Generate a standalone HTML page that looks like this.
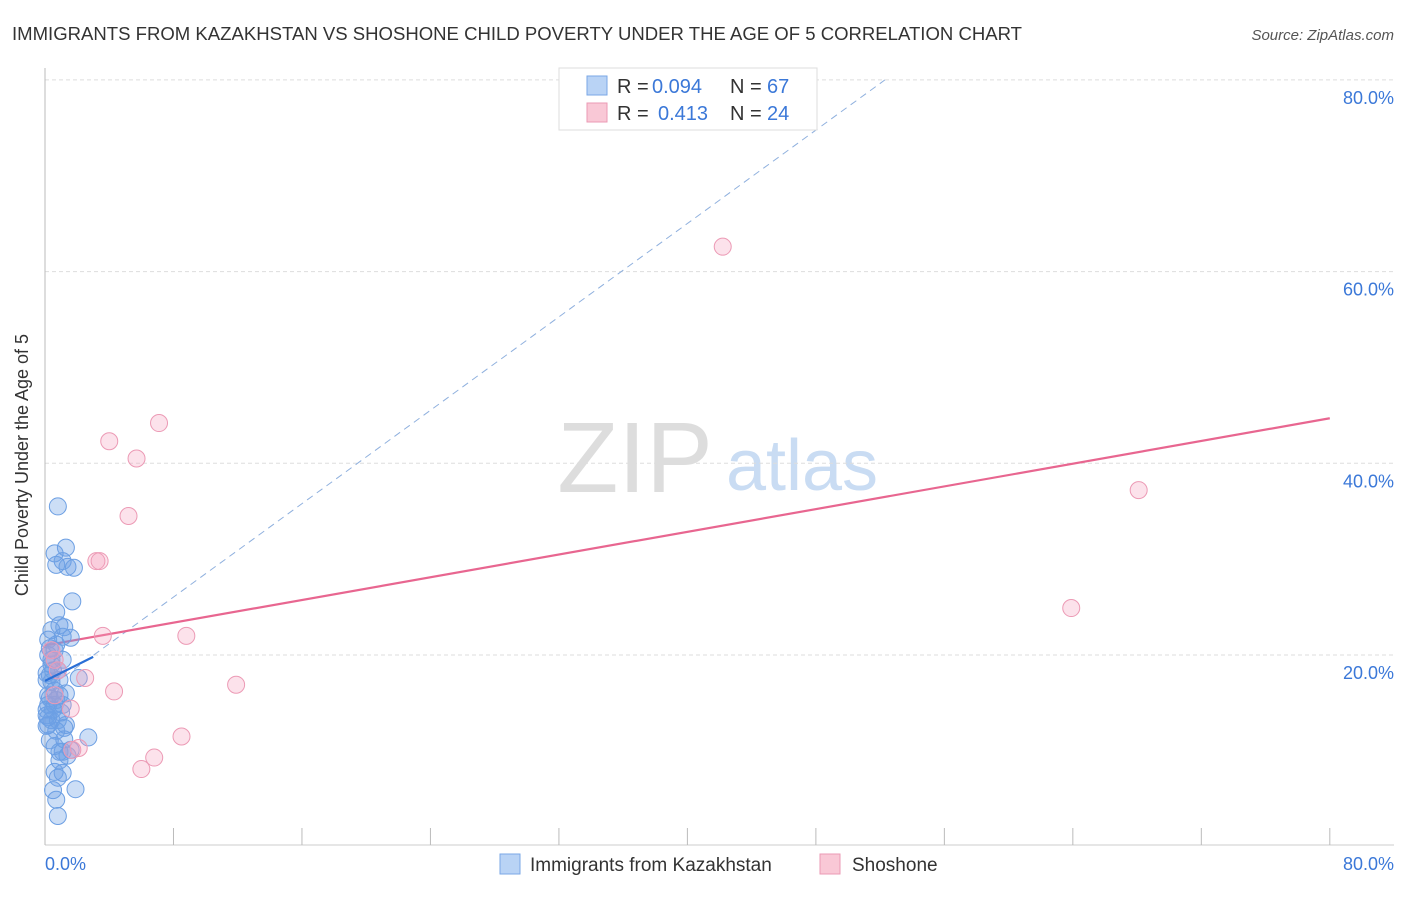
<!DOCTYPE html>
<html><head><meta charset="utf-8"><style>
body{margin:0;background:#fff;font-family:"Liberation Sans",sans-serif}
svg text{font-family:"Liberation Sans",sans-serif}
</style></head><body>
<svg width="1406" height="892" xmlns="http://www.w3.org/2000/svg">
<text x="12" y="40" font-size="18" fill="#333" textLength="1010" lengthAdjust="spacingAndGlyphs">IMMIGRANTS FROM KAZAKHSTAN VS SHOSHONE CHILD POVERTY UNDER THE AGE OF 5 CORRELATION CHART</text>
<text x="1394" y="40" font-size="15" fill="#555" text-anchor="end" font-style="italic">Source: ZipAtlas.com</text>
<g>
<text x="635" y="492" font-size="100" fill="#ddd" text-anchor="middle" font-family="Liberation Serif,serif">ZIP</text>
<text x="802" y="490" font-size="72" fill="#c9dcf3" text-anchor="middle">atlas</text>
</g>
<g id="grid"></g>
<line x1="45" y1="68" x2="45" y2="845" stroke="#bbb"/>
<line x1="45" y1="845" x2="1394" y2="845" stroke="#ccc"/>
<g id="xt"></g>
<text x="18" y="455" font-size="18" fill="#333" text-anchor="middle" transform="rotate(-90 28 455)">Child Poverty Under the Age of 5</text>
<text x="45" y="870" font-size="18" fill="#3b78d8">0.0%</text>
<text x="1394" y="870" font-size="18" fill="#3b78d8" text-anchor="end">80.0%</text>
<g id="lines"></g>
<g id="pts"></g>
<g>
<rect x="559" y="68" width="258" height="62" fill="#fff" stroke="#ddd"/>
<rect x="587" y="76" width="20" height="19" fill="#b9d3f5" stroke="#7aa7e6"/>
<rect x="587" y="103" width="20" height="19" fill="#f9c8d6" stroke="#eb9ab4"/>
<text y="93" font-size="20" fill="#333"><tspan x="617">R =</tspan><tspan x="652" fill="#3b78d8">0.094</tspan><tspan x="730">N =</tspan><tspan x="767" fill="#3b78d8">67</tspan></text>
<text y="120" font-size="20" fill="#333"><tspan x="617">R =</tspan><tspan x="658" fill="#3b78d8">0.413</tspan><tspan x="730">N =</tspan><tspan x="767" fill="#3b78d8">24</tspan></text>
</g>
<g>
<rect x="500" y="854" width="20" height="20" fill="#b9d3f5" stroke="#7aa7e6"/>
<text x="530" y="871" font-size="19" fill="#333">Immigrants from Kazakhstan</text>
<rect x="820" y="854" width="20" height="20" fill="#f9c8d6" stroke="#eb9ab4"/>
<text x="852" y="871" font-size="19" fill="#333">Shoshone</text>
</g>
</svg>
<script>
const yTicks=[20,40,60,80];
const yTickLabels=["20.0%","40.0%","60.0%","80.0%"];
const xTicks=[0,8,16,24,32,40,48,56,64,72,80];
const blueX=[0.8,0.6,1.3,1.1,0.7,1.4,1.8,1.7,0.7,0.9,1.2,0.4,1.6,1.1,0.3,0.6,0.2,1.1,0.4,0.8,0.1,2.1,1.3,0.6,0.9,0.3,0.2,1.1,0.5,0.1,0.4,0.8,0.2,0.3,2.7,1.2,0.6,1.1,1.4,0.9,1.6,0.6,1.1,0.8,0.5,1.9,0.7,0.8,0.1,0.3,0.5,0.2,0.1,0.7,0.9,0.4,0.2,0.7,0.6,1.3,0.1,0.9,1.2,0.4,0.2,1.0,0.7];
const blueY=[35.5,30.6,31.2,29.8,29.4,29.2,29.1,25.6,24.5,23.1,22.9,22.6,21.8,21.9,20.7,20.5,20.0,19.5,19.0,18.4,18.1,17.6,16.0,16.3,15.8,15.5,14.8,14.8,14.3,13.7,13.2,13.2,12.7,11.1,11.4,11.2,10.5,9.9,9.5,9.9,10.1,7.8,7.7,7.2,5.9,6.0,4.9,3.2,17.4,17.9,18.4,15.8,14.3,15.3,17.4,19.5,21.6,21.1,14.8,12.7,12.6,9.0,12.4,17.2,13.5,14.0,12.1];
const pinkX=[42.2,7.1,4.0,5.7,5.2,3.2,3.4,3.6,8.8,68.1,63.9,11.9,4.3,2.5,1.6,0.6,0.4,0.6,8.5,6.8,6.0,2.1,1.7,0.8];
const pinkY=[62.6,44.2,42.3,40.5,34.5,29.8,29.8,22.0,22.0,37.2,24.9,16.9,16.2,17.6,14.4,19.5,20.5,15.8,11.5,9.3,8.1,10.3,10.1,18.4];
const pinkTrend=[[0,21.0],[80,44.7]];
const blueTrend=[[0,17.3],[3,19.8]];
const blueDash=[[0,16.3],[52.3,80]];
const NS="http://www.w3.org/2000/svg";
const sx=v=>45+v*16.06, sy=v=>846.7-v*9.585;
function mk(t,a,p){const e=document.createElementNS(NS,t);for(const k in a)e.setAttribute(k,a[k]);p.appendChild(e);return e;}
const grid=document.getElementById('grid');
yTicks.forEach((t,i)=>{
 const l=mk('line',{x1:45,x2:1394,y1:sy(t),y2:sy(t),stroke:'#ddd','stroke-dasharray':'4 3'},grid);
 
 
 const tx=mk('text',{x:1394,y:sy(t)+24,'font-size':18,fill:'#3b78d8','text-anchor':'end'},grid);
 tx.textContent=yTickLabels[i];
 
 
});
const xt=document.getElementById('xt');
xTicks.forEach(t=>{
 const l=mk('line',{x1:sx(t),x2:sx(t),y1:828,y2:845,stroke:'#bbb'},xt);
 
 
});
const lines=document.getElementById('lines');
let d=mk('line',{x1:sx(blueDash[0][0]),y1:sy(blueDash[0][1]),x2:sx(blueDash[1][0]),y2:sy(blueDash[1][1]),stroke:'#8fb0de','stroke-dasharray':'7 5','stroke-width':1},lines);


let p=mk('line',{x1:sx(pinkTrend[0][0]),y1:sy(pinkTrend[0][1]),x2:sx(pinkTrend[1][0]),y2:sy(pinkTrend[1][1]),stroke:'#e86690','stroke-width':2.2},lines);


const pts=document.getElementById('pts');
blueX.forEach((x,i)=>{
 const c=mk('circle',{cx:sx(x),cy:sy(blueY[i]),r:8.5,fill:'rgba(110,160,230,0.35)',stroke:'#6c9fe3','stroke-width':1},pts);
 
 
});
pinkX.forEach((x,i)=>{
 const c=mk('circle',{cx:sx(x),cy:sy(pinkY[i]),r:8.5,fill:'rgba(245,160,190,0.3)',stroke:'#ec9ab5','stroke-width':1},pts);
 
 
});
let b=mk('line',{x1:sx(blueTrend[0][0]),y1:sy(blueTrend[0][1]),x2:sx(blueTrend[1][0]),y2:sy(blueTrend[1][1]),stroke:'#2a6fd6','stroke-width':2.2},pts);


</script>
</body></html>
